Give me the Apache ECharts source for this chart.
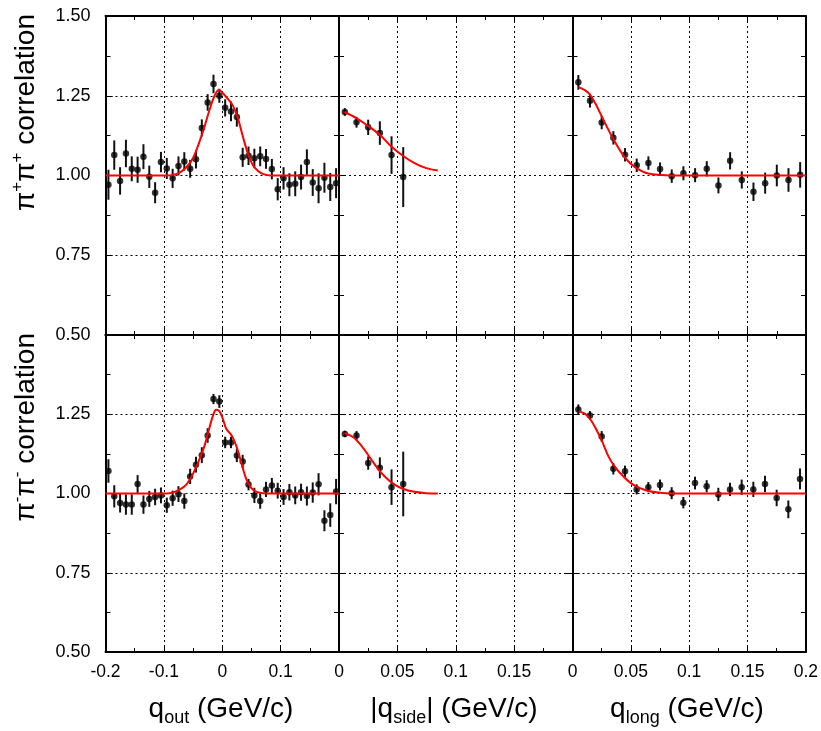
<!DOCTYPE html>
<html>
<head>
<meta charset="utf-8">
<script src="https://cdn.jsdelivr.net/npm/echarts@6/dist/echarts.min.js"></script>
<style>
  html, body { margin: 0; padding: 0; background: #fff; }
  #chart { width: 821px; height: 731px; }
</style>
</head>
<body>
<div id="chart"></div>
<script>
// Bin centres (GeV/c)
const qOutBins = [-0.195,-0.185,-0.175,-0.165,-0.155,-0.145,-0.135,-0.125,-0.115,-0.105,
  -0.095,-0.085,-0.075,-0.065,-0.055,-0.045,-0.035,-0.025,-0.015,-0.005,
  0.005,0.015,0.025,0.035,0.045,0.055,0.065,0.075,0.085,0.095,
  0.105,0.115,0.125,0.135,0.145,0.155,0.165,0.175,0.185,0.195];
const qSideBins = [0.005,0.015,0.025,0.035,0.045,0.055];
const qLongBins = [0.005,0.015,0.025,0.035,0.045,0.055,0.065,0.075,0.085,0.095,
  0.105,0.115,0.125,0.135,0.145,0.155,0.165,0.175,0.185,0.195];

// pi+ pi+ correlation
const ppOutVal = [0.971,1.064,0.983,1.069,1.021,1.018,1.059,0.996,0.946,1.042,
  1.022,0.991,1.030,1.044,1.021,1.051,1.149,1.229,1.287,1.250,
  1.212,1.201,1.183,1.057,1.062,1.054,1.060,1.052,1.020,0.957,
  0.991,0.971,0.974,0.995,1.042,0.978,0.960,0.993,0.964,0.976];
const ppOutErr = [0.047,0.046,0.043,0.043,0.039,0.041,0.039,0.035,0.033,0.032,
  0.033,0.030,0.030,0.029,0.028,0.029,0.027,0.026,0.029,0.022,
  0.027,0.031,0.030,0.030,0.029,0.030,0.031,0.031,0.032,0.035,
  0.035,0.036,0.039,0.039,0.040,0.042,0.047,0.047,0.044,0.047];
const ppSideVal = [1.199,1.167,1.151,1.133,1.064,0.995];
const ppSideErr = [0.012,0.017,0.024,0.037,0.059,0.094];
const ppLongVal = [1.292,1.234,1.166,1.118,1.065,1.032,1.039,1.020,0.998,1.007,
  1.001,1.021,0.969,1.046,0.986,0.949,0.976,1.000,0.986,1.002];
const ppLongErr = [0.023,0.021,0.021,0.021,0.021,0.021,0.021,0.021,0.021,0.022,
  0.022,0.024,0.025,0.027,0.027,0.029,0.033,0.034,0.037,0.040];

// pi- pi- correlation
const mmOutVal = [1.071,0.991,0.970,0.965,0.965,1.030,0.965,0.983,0.989,0.994,
  0.963,0.985,0.998,0.976,1.054,1.091,1.121,1.183,1.298,1.290,
  1.161,1.161,1.120,1.101,1.028,0.994,0.976,1.013,1.025,1.009,
  0.989,1.004,0.994,1.004,0.992,1.003,1.029,0.914,0.932,1.006];
const mmOutErr = [0.037,0.035,0.030,0.032,0.032,0.028,0.029,0.025,0.026,0.025,
  0.024,0.024,0.025,0.024,0.024,0.025,0.025,0.023,0.016,0.020,
  0.018,0.018,0.021,0.021,0.018,0.024,0.024,0.024,0.024,0.025,
  0.025,0.026,0.028,0.027,0.030,0.032,0.035,0.033,0.037,0.040];
const mmSideVal = [1.188,1.183,1.096,1.081,1.020,1.030];
const mmSideErr = [0.010,0.014,0.021,0.033,0.056,0.102];
const mmLongVal = [1.265,1.246,1.180,1.078,1.070,1.013,1.020,1.027,1.001,0.971,
  1.033,1.023,0.997,1.013,1.020,1.013,1.030,0.986,0.950,1.046];
const mmLongErr = [0.016,0.014,0.017,0.018,0.018,0.016,0.016,0.017,0.019,0.018,
  0.020,0.019,0.021,0.021,0.024,0.024,0.026,0.026,0.028,0.033];

// Fit curves, sampled
const ppOutFitX = [-0.2,-0.0958,-0.0844,-0.073,-0.0616,-0.0502,-0.0388,-0.0303,-0.0217,-0.0132,-0.0058,
  0.0011,0.0096,0.0182,0.0267,0.0353,0.0438,0.0523,0.0609,0.0694,0.0837,0.2];
const ppOutFitY = [1.0,1.0,1.002,1.009,1.026,1.054,1.107,1.154,1.206,1.250,1.269,
  1.258,1.240,1.219,1.180,1.122,1.070,1.033,1.015,1.005,1.0,1.0];
const ppSideFitX = [0.0046,0.0148,0.0234,0.0348,0.0448,0.0547,0.0647,0.0747,0.0846];
const ppSideFitY = [1.199,1.180,1.159,1.128,1.091,1.062,1.039,1.023,1.016];
const ppLongFitX = [0.0052,0.0109,0.0151,0.0194,0.0251,0.0308,0.0365,0.0422,0.0479,0.0536,0.0593,0.065,0.0735,0.0849,0.2];
const ppLongFitY = [1.277,1.267,1.253,1.227,1.185,1.143,1.104,1.070,1.044,1.026,1.014,1.006,1.002,1.0,1.0];

const mmOutFitX = [-0.2,-0.0958,-0.0844,-0.073,-0.0616,-0.0502,-0.0388,-0.0303,-0.0217,-0.0149,-0.0104,-0.0047,
  0.0011,0.0068,0.0153,0.0239,0.0324,0.041,0.0495,0.0581,0.0694,0.0837,0.2];
const mmOutFitY = [1.0,1.0,1.003,1.012,1.028,1.062,1.109,1.151,1.209,1.251,1.264,1.259,
  1.235,1.204,1.185,1.151,1.099,1.046,1.018,1.006,1.001,1.0,1.0];
const mmSideFitX = [0.0046,0.012,0.0191,0.0262,0.0334,0.0405,0.0476,0.0547,0.0633,0.0747,0.0846];
const mmSideFitY = [1.191,1.178,1.151,1.115,1.078,1.049,1.028,1.015,1.006,1.001,1.0];
const mmLongFitX = [0.0052,0.0109,0.0151,0.0194,0.0251,0.0308,0.0365,0.0422,0.0479,0.0536,0.0593,0.065,0.0735,0.0849,0.2];
const mmLongFitY = [1.259,1.251,1.235,1.209,1.167,1.117,1.083,1.059,1.039,1.024,1.015,1.008,1.003,1.0,1.0];

// Axis ranges and tick labels
const yTickLabels = ['0.50','0.75','1.00','1.25','1.50'];
const xRanges = [[-0.2, 0.2, 0.1], [0, 0.2, 0.05], [0, 0.2, 0.05]];
const xTickLabels = [['-0.2','-0.1','0','0.1'], ['0','0.05','0.1','0.15'], ['0','0.05','0.1','0.15','0.2']];

const FONT = 'Liberation Sans, Arial, Helvetica, sans-serif';

const panels = [
  { row: 0, col: 0, x: qOutBins,  y: ppOutVal,  e: ppOutErr,  fx: ppOutFitX,  fy: ppOutFitY },
  { row: 0, col: 1, x: qSideBins, y: ppSideVal, e: ppSideErr, fx: ppSideFitX, fy: ppSideFitY },
  { row: 0, col: 2, x: qLongBins, y: ppLongVal, e: ppLongErr, fx: ppLongFitX, fy: ppLongFitY },
  { row: 1, col: 0, x: qOutBins,  y: mmOutVal,  e: mmOutErr,  fx: mmOutFitX,  fy: mmOutFitY },
  { row: 1, col: 1, x: qSideBins, y: mmSideVal, e: mmSideErr, fx: mmSideFitX, fy: mmSideFitY },
  { row: 1, col: 2, x: qLongBins, y: mmLongVal, e: mmLongErr, fx: mmLongFitX, fy: mmLongFitY }
];

const colLeft = [105.5, 339, 572.5];
const colWidth = 233.5;
const rowTop = [16, 335];
const rowHeight = [319, 317];

const grid = [], xAxis = [], yAxis = [], series = [];
const frameLine = { show: true, onZero: false, lineStyle: { color: '#000', width: 2 } };
const dotted = { show: true, lineStyle: { color: '#000', width: 1, type: [2, 3] } };

function fmtNum(v) { return String(parseFloat(v.toFixed(3))); }

panels.forEach((p, i) => {
  grid.push({ left: colLeft[p.col], top: rowTop[p.row], width: colWidth, height: rowHeight[p.row], containLabel: false });
  const [xmin, xmax, xint] = xRanges[p.col];
  const labels = xTickLabels[p.col];
  const showX = p.row === 1;
  // bottom x axis with labels and grid lines
  xAxis.push({
    type: 'value', gridIndex: i, position: 'bottom', min: xmin, max: xmax, interval: xint,
    axisLine: frameLine,
    axisTick: { show: true, inside: true, length: 7, lineStyle: { color: '#000', width: 1 } },
    minorTick: { show: true, splitNumber: 2, length: 4, lineStyle: { color: '#000', width: 1 } },
    splitLine: dotted,
    axisLabel: {
      show: showX, margin: 11, color: '#000', fontSize: 17.5, fontFamily: FONT,
      showMinLabel: true, showMaxLabel: true,
      formatter: v => { const s = fmtNum(v); return labels.indexOf(s) >= 0 ? s : ''; }
    }
  });
  // top x axis: frame and ticks only
  xAxis.push({
    type: 'value', gridIndex: i, position: 'top', min: xmin, max: xmax, interval: xint,
    axisLine: frameLine,
    axisTick: { show: true, inside: true, length: 7, lineStyle: { color: '#000', width: 1 } },
    minorTick: { show: true, splitNumber: 2, length: 4, lineStyle: { color: '#000', width: 1 } },
    splitLine: { show: false }, axisLabel: { show: false }
  });
  const showY = p.col === 0;
  yAxis.push({
    type: 'value', gridIndex: i, position: 'left', min: 0.5, max: 1.5, interval: 0.25,
    axisLine: frameLine,
    axisTick: { show: true, inside: true, length: 7, lineStyle: { color: '#000', width: 1 } },
    minorTick: { show: true, splitNumber: 2, length: 5, lineStyle: { color: '#000', width: 1 } },
    splitLine: dotted,
    axisLabel: {
      show: showY, margin: 15, color: '#000', fontSize: 18, fontFamily: FONT,
      showMinLabel: true, showMaxLabel: true,
      formatter: v => {
        const s = v.toFixed(2);
        if (p.row === 1 && s === '1.50') return '';
        return yTickLabels.indexOf(s) >= 0 ? s : '';
      }
    }
  });
  yAxis.push({
    type: 'value', gridIndex: i, position: 'right', min: 0.5, max: 1.5, interval: 0.25,
    axisLine: frameLine,
    axisTick: { show: true, inside: true, length: 7, lineStyle: { color: '#000', width: 1 } },
    minorTick: { show: true, splitNumber: 2, length: 5, lineStyle: { color: '#000', width: 1 } },
    splitLine: { show: false }, axisLabel: { show: false }
  });

  const pts = p.x.map((x, k) => [x, p.y[k], p.e[k]]);
  // vertical error bars
  series.push({
    type: 'custom', xAxisIndex: 2 * i, yAxisIndex: 2 * i, z: 2, clip: true,
    data: pts,
    encode: { x: 0, y: 1 },
    renderItem: (params, api) => {
      const x = api.value(0), y = api.value(1), e = api.value(2);
      const a = api.coord([x, y + e]);
      const b = api.coord([x, y - e]);
      return { type: 'line', shape: { x1: a[0], y1: a[1], x2: b[0], y2: b[1] },
               style: { stroke: '#111', lineWidth: 2 } };
    }
  });
  // data points
  series.push({
    type: 'scatter', xAxisIndex: 2 * i, yAxisIndex: 2 * i, z: 3,
    symbol: 'circle', symbolSize: 6.5,
    itemStyle: { color: '#000' },
    data: pts.map(d => [d[0], d[1]])
  });
  // fit curve
  series.push({
    type: 'line', xAxisIndex: 2 * i, yAxisIndex: 2 * i, z: 4,
    showSymbol: false, smooth: 0.35,
    lineStyle: { color: '#ff0000', width: 2 },
    data: p.fx.map((x, k) => [x, p.fy[k]])
  });
});

const titleRich = {
  m: { fontSize: 28, fontFamily: FONT, fill: '#000', lineHeight: 34 },
  s: { fontSize: 17, fontFamily: FONT, fill: '#000', lineHeight: 34, verticalAlign: 'top' }
};
const xTitleRich = {
  m: { fontSize: 28, fontFamily: FONT, fill: '#000', lineHeight: 36 },
  b: { fontSize: 18, fontFamily: FONT, fill: '#000', lineHeight: 36, verticalAlign: 'bottom' }
};

const graphic = [
  { type: 'text', x: 26, y: 14, rotation: Math.PI / 2,
    style: { text: '{m|π}{s|+}{m|π}{s|+}{m| correlation}', align: 'right', verticalAlign: 'middle', rich: titleRich } },
  { type: 'text', x: 26, y: 333, rotation: Math.PI / 2,
    style: { text: '{m|π}{s|-}{m|π}{s|-}{m| correlation}', align: 'right', verticalAlign: 'middle', rich: titleRich } },
  { type: 'text', x: 221, y: 709,
    style: { text: '{m|q}{b|out}{m| (GeV/c)}', align: 'center', verticalAlign: 'middle', rich: xTitleRich } },
  { type: 'text', x: 454, y: 709,
    style: { text: '{m||q}{b|side}{m|| (GeV/c)}', align: 'center', verticalAlign: 'middle', rich: xTitleRich } },
  { type: 'text', x: 687, y: 709,
    style: { text: '{m|q}{b|long}{m| (GeV/c)}', align: 'center', verticalAlign: 'middle', rich: xTitleRich } }
];

const chart = echarts.init(document.getElementById('chart'), null, { renderer: 'canvas' });
chart.setOption({
  animation: false,
  backgroundColor: '#fff',
  grid, xAxis, yAxis, series, graphic
});
</script>
</body>
</html>
